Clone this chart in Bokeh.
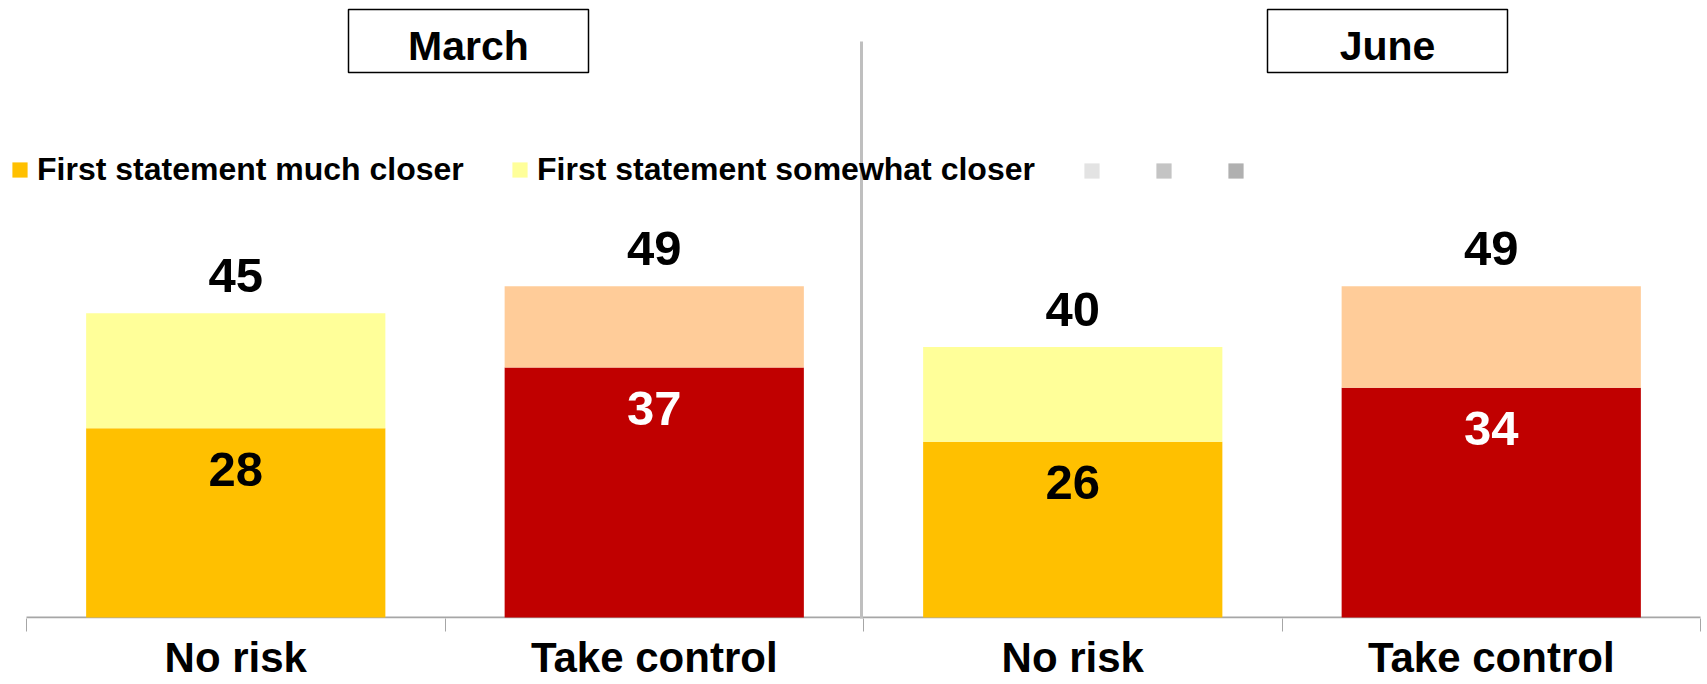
from bokeh.plotting import figure
from bokeh.models import (ColumnDataSource, FixedTicker, Legend, LegendItem,
                          Arrow, Range1d)
from bokeh.core.properties import value
from bokeh.embed import file_html
from bokeh.resources import INLINE

# ---------------- data ----------------
periods = ["March", "June"]
statements = ["No risk", "Take control", "No risk", "Take control"]
much_closer = [28, 37, 26, 34]
somewhat_closer = [17, 12, 14, 15]
series_names = ["First statement much closer", "First statement somewhat closer"]

# ---------------- layout constants ----------------
W, H = 1707, 684
AXIS_Y = 617            # pixel row of the baseline
PLOT_X0, PLOT_X1 = 26, 1700
PX_PER_UNIT = 6.76
N = len(statements)
PX_PER_X = (PLOT_X1 - PLOT_X0) / N
BORDER_BOTTOM = H - (AXIS_Y + 1)
FONT = "Liberation Sans"

def dx(px):   # pixel column -> data x
    return (px - PLOT_X0) / PX_PER_X

def dy(py):   # pixel row -> data y
    return (AXIS_Y - py) / PX_PER_UNIT

bar_x = [i + 0.5 for i in range(N)]
bounds = [float(i) for i in range(N + 1)]
totals = [m + s for m, s in zip(much_closer, somewhat_closer)]
bottom_colors = ["#FFC000" if s == "No risk" else "#C00000" for s in statements]
top_colors = ["#FFFF99" if s == "No risk" else "#FFCC99" for s in statements]
inner_text_colors = ["#000000" if s == "No risk" else "#FFFFFF" for s in statements]

src = ColumnDataSource(dict(
    x=bar_x, much=much_closer, total=totals,
    bcol=bottom_colors, tcol=top_colors, icol=inner_text_colors,
    much_txt=[str(v) for v in much_closer],
    total_txt=[str(v) for v in totals],
    inner_y=[v - 41 / PX_PER_UNIT for v in much_closer],
    total_y=[v + 38 / PX_PER_UNIT for v in totals],
))

p = figure(width=W, height=H,
           x_range=Range1d(dx(0), dx(W)),
           y_range=Range1d(dy(AXIS_Y + 1), dy(0)),
           output_backend="svg", toolbar_location=None, y_axis_location=None,
           min_border_left=0, min_border_right=0, min_border_top=0,
           min_border_bottom=BORDER_BOTTOM, outline_line_color=None)
p.xgrid.visible = False
p.ygrid.visible = False

ax = p.xaxis[0]
ax.ticker = FixedTicker(ticks=bar_x, minor_ticks=bounds)
ax.major_label_overrides = {x: s for x, s in zip(bar_x, statements)}
ax.major_label_text_font = FONT
ax.major_label_text_font_style = "bold"
ax.major_label_text_font_size = "42px"
ax.major_label_text_color = "#000000"
ax.major_label_text_line_height = 1.0
ax.major_label_standoff = 2
ax.major_tick_in = 0
ax.major_tick_out = 0
ax.major_tick_line_color = None
ax.minor_tick_in = 0
ax.minor_tick_out = 13
ax.minor_tick_line_color = "#A6A6A6"
ax.minor_tick_line_width = 1
ax.axis_line_color = None

# baseline
p.segment(x0=[bounds[0]], x1=[bounds[-1]], y0=[0], y1=[0],
          line_color="#A6A6A6", line_width=2)

BAR_W = 0.715
r_much = p.vbar(x="x", width=BAR_W, bottom=0, top="much", fill_color="bcol",
                line_color=None, source=src)
r_some = p.vbar(x="x", width=BAR_W, bottom="much", top="total", fill_color="tcol",
                line_color=None, source=src)

# value labels
p.text(x="x", y="inner_y", text="much_txt", source=src, text_color="icol",
       text_font=value(FONT), text_font_style="bold", text_font_size="49px",
       text_align="center", text_baseline="middle")
p.text(x="x", y="total_y", text="total_txt", source=src, text_color="#000000",
       text_font=value(FONT), text_font_style="bold", text_font_size="49px",
       text_align="center", text_baseline="middle")

# period title boxes
box_cx = [dx(468), dx(1387)]
box_hw = 120 / PX_PER_X
tsrc = ColumnDataSource(dict(
    left=[c - box_hw for c in box_cx], right=[c + box_hw for c in box_cx],
    top=[dy(9)] * 2, bottom=[dy(72)] * 2,
    cx=box_cx, cy=[dy(45)] * 2, label=periods))
p.quad(left="left", right="right", top="top", bottom="bottom", source=tsrc,
       fill_color="#FFFFFF", line_color="#000000", line_width=1.5)
p.text(x="cx", y="cy", text="label", source=tsrc, text_font=value(FONT),
       text_font_style="bold", text_font_size="41px", text_align="center",
       text_baseline="middle", text_color="#000000")

# separator between periods
sep = Arrow(end=None, x_start=dx(861), x_end=dx(861),
            y_start=dy(41), y_end=dy(651),
            line_color="#BFBFBF", line_width=3)
p.add_layout(sep)

# legend swatches without text (zero-height, invisible bars)
def swatch(color):
    return p.vbar(x=[bar_x[0]], top=[0], bottom=[0], width=0.01,
                  fill_color=color, line_color=None)

g1, g2, g3 = swatch("#E3E3E3"), swatch("#C4C4C4"), swatch("#B0B0B0")

def make_legend(items, x0, y0, spacing=0, label_standoff=8):
    lg = Legend(items=items, location=(x0, y0), orientation="horizontal",
                border_line_color=None, background_fill_alpha=0, padding=0, margin=0,
                glyph_width=19, glyph_height=19, label_standoff=label_standoff,
                spacing=spacing, label_text_font=FONT, label_text_font_style="bold",
                label_text_font_size="32px", label_text_color="#000000")
    p.add_layout(lg)
    return lg

make_legend([LegendItem(label=series_names[0], renderers=[r_much], index=0)], 10, 430)
make_legend([LegendItem(label=series_names[1], renderers=[r_some], index=0)], 510, 430)
lg3 = make_legend([LegendItem(label=" ", renderers=[g1], index=0),
                   LegendItem(label=" ", renderers=[g2], index=0),
                   LegendItem(label=" ", renderers=[g3], index=0)], 1082, 438,
                  spacing=53, label_standoff=0)
lg3.label_width = 0

open("out.html", "w").write(file_html(p, INLINE))
